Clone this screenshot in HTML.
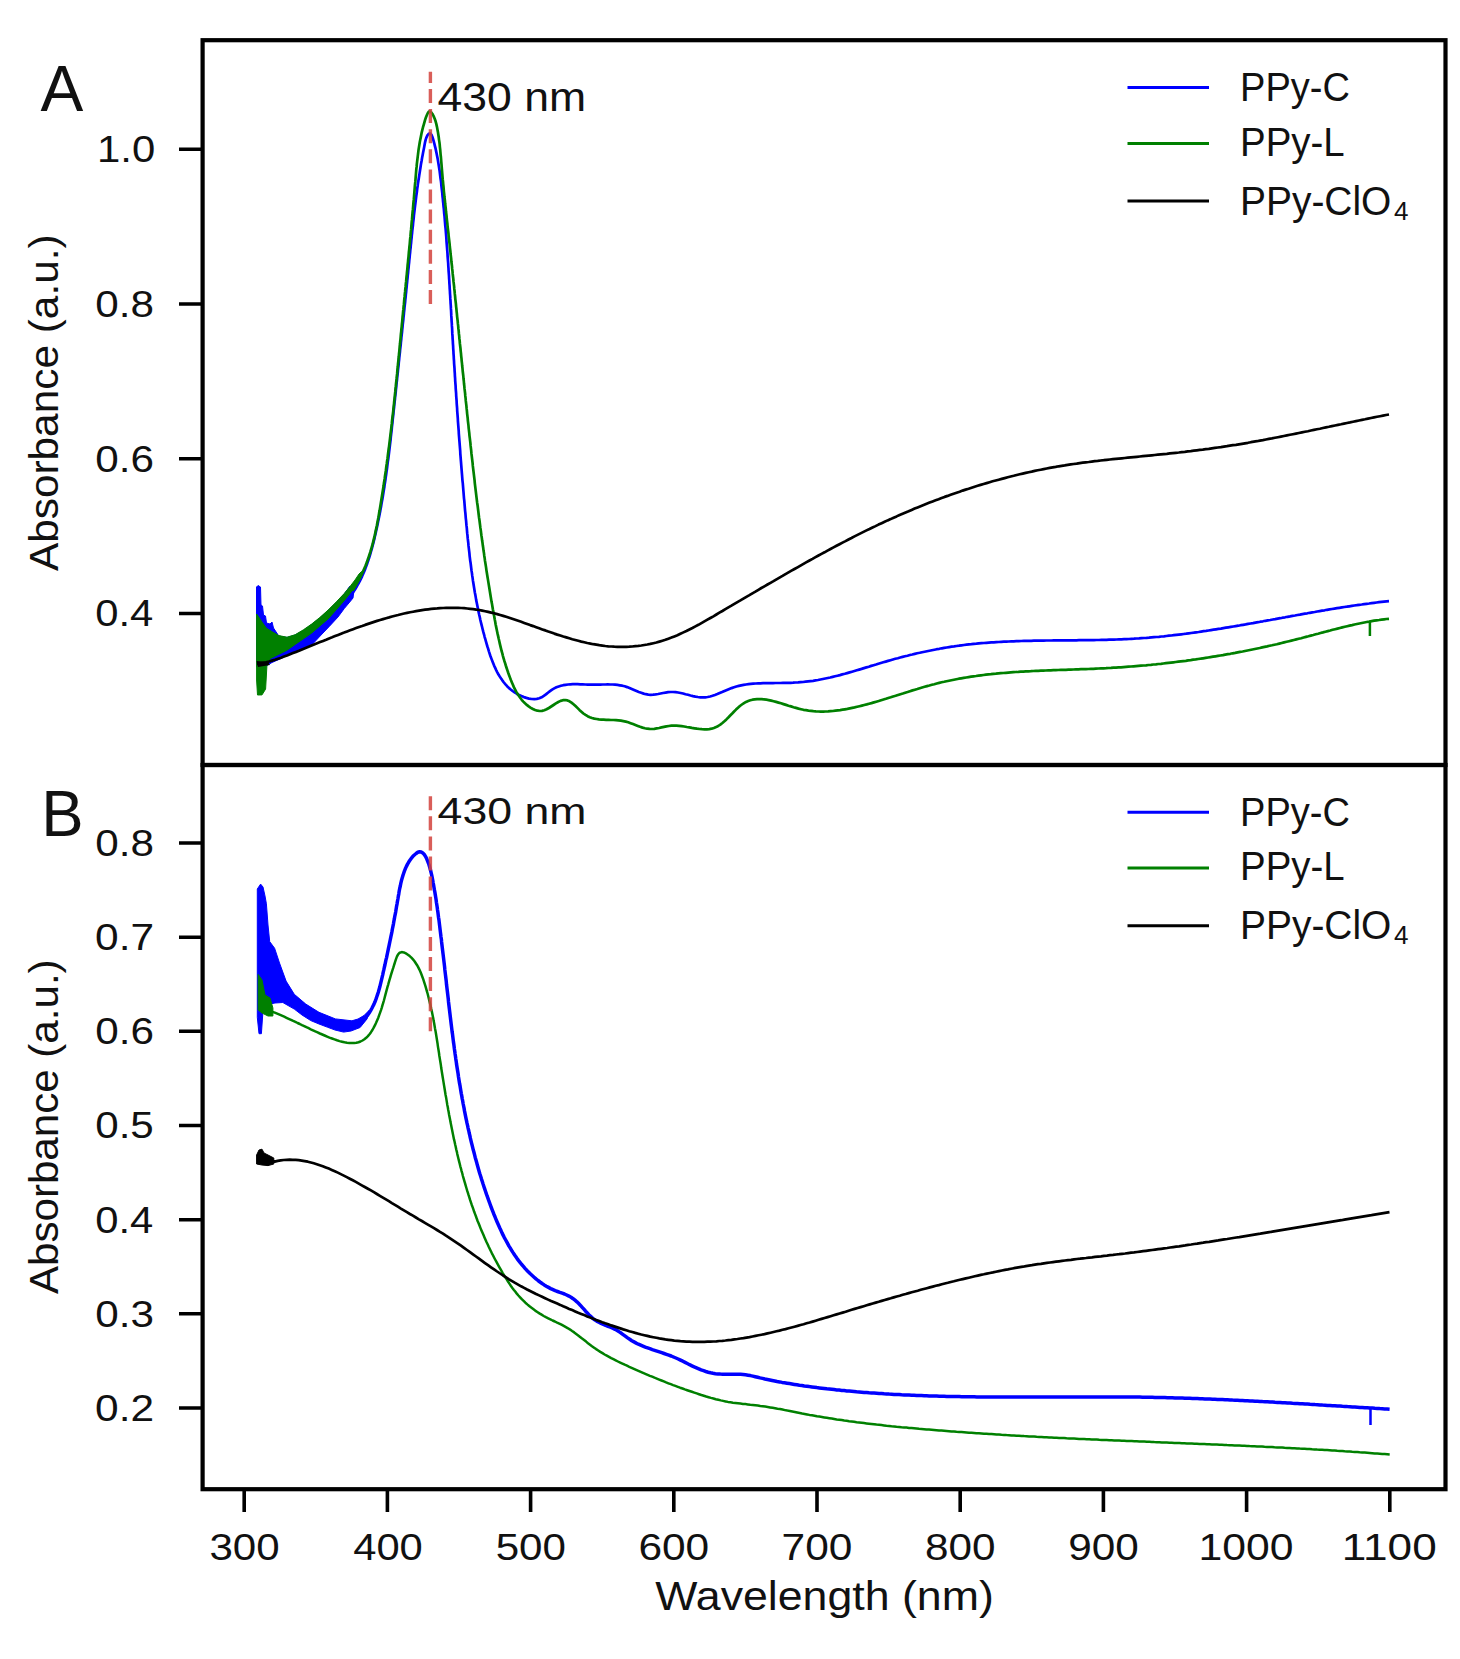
<!DOCTYPE html><html><head><meta charset="utf-8"><title>Absorbance spectra</title><style>html,body{margin:0;padding:0;background:#fff;}svg{display:block;}text{font-family:"Liberation Sans",sans-serif;fill:#111;}</style></head><body>
<svg xmlns="http://www.w3.org/2000/svg" width="1460" height="1659" viewBox="0 0 1460 1659">
<rect x="0" y="0" width="1460" height="1659" fill="#fff"/>
<defs><clipPath id="ca"><rect x="202.6" y="40.2" width="1242.9" height="724.8"/></clipPath><clipPath id="cb"><rect x="202.6" y="765" width="1242.9" height="724.2"/></clipPath></defs>
<g clip-path="url(#ca)" fill="none" stroke-linejoin="round" stroke-linecap="butt">
<path d="M256.5,587 L258,585.5 L260.5,587 L261,605 L262.5,606 L263.5,615 L265.5,616 L266.5,623 L270,624 L272,622 L273.5,628 L278.8,636 L287,637.5 L295.2,635 L303.4,630.5 L311.6,624.5 L319.8,618 L328.1,610.5 L336.3,602.5 L344.5,593.5 L350,586 L354,590 L353,598 L350.6,601 L344.3,608.5 L338,617 L329.5,626.2 L321.1,635 L312.7,644 L303.4,648.2 L295.2,651.8 L287,655.5 L280,659 L272,662.5 L266,666 L260,668 L256.5,667Z" fill="#0000ff" stroke="#0000ff" stroke-width="1"/>
<path d="M347.6,599.8 349.2,597.8 350.7,595.8 352.2,593.7 353.6,591.6 355,589.5 356.3,587.4 357.5,585.2 358.7,583 359.9,580.8 361,578.6 362.1,576.3 363.1,574 364.1,571.7 365,569.4 365.9,567.1 366.8,564.8 367.6,562.4 368.4,560 369.2,557.6 369.9,555.3 370.6,552.8 371.3,550.4 372,548 372.6,545.6 373.3,543.2 373.9,540.7 374.5,538.3 375,535.8 375.6,533.4 376.1,530.9 376.7,528.5 377.2,526 377.7,523.6 378.2,521.1 378.7,518.7 379.2,516.2 379.7,513.8 380.2,511.3 380.6,508.8 381.1,506.4 381.5,503.9 381.9,501.5 382.4,499 382.8,496.5 383.2,494.1 383.6,491.6 384,489.1 384.4,486.7 384.7,484.2 385.1,481.7 385.5,479.2 385.8,476.8 386.2,474.3 386.5,471.8 386.9,469.4 387.2,466.9 387.5,464.4 387.8,461.9 388.2,459.4 388.5,457 388.8,454.5 389.1,452 389.4,449.5 389.7,447 390,444.6 390.3,442.1 390.6,439.6 390.8,437.1 391.1,434.6 391.4,432.1 391.7,429.6 391.9,427.2 392.2,424.7 392.5,422.2 392.7,419.7 393,417.2 393.3,414.7 393.5,412.2 393.8,409.7 394.1,407.2 394.3,404.7 394.6,402.2 394.9,399.7 395.1,397.2 395.4,394.8 395.7,392.3 395.9,389.8 396.2,387.3 396.4,384.8 396.7,382.3 397,379.8 397.2,377.3 397.5,374.8 397.8,372.3 398,369.8 398.3,367.3 398.6,364.8 398.8,362.3 399.1,359.8 399.3,357.3 399.6,354.8 399.9,352.3 400.1,349.8 400.4,347.3 400.7,344.8 400.9,342.3 401.2,339.8 401.4,337.3 401.7,334.8 402,332.3 402.2,329.8 402.5,327.3 402.7,324.8 403,322.3 403.3,319.8 403.5,317.3 403.8,314.8 404,312.3 404.3,309.8 404.5,307.3 404.8,304.8 405.1,302.3 405.3,299.9 405.6,297.4 405.8,294.9 406.1,292.4 406.3,289.9 406.6,287.4 406.8,284.9 407.1,282.4 407.3,280 407.6,277.5 407.8,275 408.1,272.5 408.3,270 408.6,267.6 408.8,265.1 409.1,262.6 409.3,260.1 409.6,257.7 409.8,255.2 410.1,252.7 410.3,250.2 410.6,247.8 410.8,245.3 411.1,242.8 411.3,240.4 411.6,237.9 411.8,235.4 412.1,233 412.3,230.5 412.6,228 412.9,225.6 413.1,223.1 413.4,220.6 413.7,218.1 413.9,215.7 414.2,213.2 414.5,210.7 414.8,208.2 415.1,205.7 415.4,203.3 415.7,200.8 416,198.3 416.3,195.8 416.7,193.3 417,190.8 417.3,188.2 417.7,185.7 418,183.2 418.4,180.7 418.8,178.2 419.2,175.6 419.6,173.1 420,170.5 420.4,168 420.8,165.4 421.2,162.9 421.7,160.3 422.1,157.7 422.6,155.2 423.1,152.6 423.6,150 424.1,147.4 424.6,144.7 425.1,142.1 425.7,139.6 426.5,137.3 427.4,135.4 428.5,134 429.7,133.3 430.7,133.7 431.6,135 432.4,136.9 433.1,139.2 433.8,141.6 434.4,143.9 435,146.3 435.6,148.7 436.1,151.1 436.6,153.5 437.1,156 437.6,158.4 438,160.9 438.4,163.4 438.8,165.8 439.2,168.3 439.6,170.8 439.9,173.3 440.2,175.8 440.5,178.3 440.9,180.9 441.2,183.4 441.4,185.9 441.7,188.4 442,190.9 442.3,193.4 442.5,196 442.8,198.5 443,201 443.3,203.5 443.5,206 443.8,208.5 444,211 444.2,213.5 444.5,216 444.7,218.5 444.9,221.1 445.1,223.6 445.3,226.1 445.6,228.6 445.8,231.1 446,233.6 446.2,236.1 446.4,238.6 446.5,241.1 446.7,243.6 446.9,246.1 447.1,248.6 447.3,251.1 447.5,253.6 447.6,256.1 447.8,258.6 448,261.1 448.2,263.5 448.3,266 448.5,268.5 448.6,271 448.8,273.5 449,276 449.1,278.5 449.3,281 449.4,283.5 449.6,286 449.7,288.5 449.9,291 450,293.5 450.2,296 450.3,298.4 450.5,300.9 450.6,303.4 450.8,305.9 450.9,308.4 451.1,310.9 451.2,313.4 451.3,315.9 451.5,318.4 451.6,320.9 451.8,323.4 451.9,325.9 452.1,328.4 452.2,330.9 452.3,333.4 452.5,335.8 452.6,338.3 452.8,340.8 452.9,343.3 453.1,345.8 453.2,348.3 453.4,350.8 453.5,353.3 453.7,355.8 453.8,358.3 454,360.8 454.1,363.3 454.3,365.8 454.5,368.3 454.6,370.8 454.8,373.3 454.9,375.8 455.1,378.3 455.2,380.8 455.4,383.3 455.6,385.8 455.7,388.3 455.9,390.8 456.1,393.3 456.2,395.8 456.4,398.3 456.6,400.8 456.7,403.3 456.9,405.8 457.1,408.3 457.2,410.8 457.4,413.3 457.6,415.8 457.8,418.3 457.9,420.8 458.1,423.3 458.3,425.8 458.5,428.3 458.7,430.8 458.8,433.3 459,435.8 459.2,438.3 459.4,440.8 459.6,443.3 459.8,445.8 460,448.3 460.2,450.8 460.3,453.3 460.5,455.8 460.7,458.3 460.9,460.8 461.1,463.3 461.3,465.8 461.5,468.3 461.7,470.8 461.9,473.3 462.1,475.8 462.3,478.3 462.5,480.8 462.8,483.3 463,485.8 463.2,488.3 463.4,490.8 463.6,493.3 463.8,495.8 464,498.3 464.3,500.8 464.5,503.3 464.7,505.8 464.9,508.3 465.1,510.8 465.4,513.3 465.6,515.8 465.8,518.3 466.1,520.8 466.3,523.3 466.5,525.7 466.8,528.2 467,530.7 467.2,533.2 467.5,535.7 467.7,538.2 468,540.7 468.3,543.2 468.5,545.7 468.8,548.1 469.1,550.6 469.4,553.1 469.6,555.6 469.9,558.1 470.2,560.6 470.6,563 470.9,565.5 471.2,568 471.5,570.5 471.9,572.9 472.2,575.4 472.6,577.9 472.9,580.4 473.3,582.8 473.7,585.3 474.1,587.8 474.5,590.2 474.9,592.7 475.4,595.2 475.8,597.6 476.2,600.1 476.7,602.5 477.2,605 477.7,607.5 478.2,609.9 478.7,612.4 479.2,614.8 479.8,617.3 480.3,619.7 480.9,622.2 481.5,624.6 482.1,627 482.7,629.5 483.3,631.9 484,634.3 484.6,636.8 485.3,639.2 486,641.6 486.7,644.1 487.4,646.5 488.2,648.9 488.9,651.3 489.7,653.8 490.5,656.2 491.4,658.6 492.3,660.9 493.2,663.3 494.1,665.6 495.2,667.9 496.2,670.1 497.3,672.3 498.5,674.5 499.8,676.6 501.1,678.6 502.5,680.6 503.9,682.5 505.5,684.4 507.1,686.2 508.8,687.9 510.7,689.5 512.6,691 514.6,692.4 516.7,693.7 519,695 521.4,696.1 523.9,697.1 526.4,697.9 529,698.6 531.7,699 534.3,699.1 536.8,698.9 539.3,698.3 541.6,697.3 543.8,695.9 545.9,694.4 547.9,692.7 550,691.1 552.1,689.6 554.2,688.4 556.4,687.3 558.7,686.5 560.9,685.8 563.3,685.2 565.6,684.8 568,684.5 570.4,684.3 572.8,684.2 575.3,684.2 577.7,684.2 580.2,684.3 582.7,684.4 585.2,684.5 587.8,684.6 590.3,684.7 592.8,684.7 595.3,684.7 597.8,684.7 600.3,684.6 602.8,684.5 605.3,684.5 607.7,684.4 610.2,684.5 612.6,684.5 615.1,684.7 617.5,684.9 619.9,685.3 622.3,685.7 624.7,686.3 627.1,687.1 629.5,688 631.8,689 634.1,690 636.5,691 638.8,692 641.2,692.8 643.6,693.6 645.9,694.2 648.3,694.6 650.7,694.8 653.2,694.7 655.6,694.4 658.1,694 660.6,693.5 663.1,693 665.6,692.6 668.1,692.2 670.6,692 673.1,692 675.6,692.2 678.1,692.5 680.6,693 683.1,693.5 685.5,694.2 688,694.8 690.5,695.5 693,696.1 695.4,696.6 697.9,697 700.3,697.3 702.8,697.4 705.2,697.3 707.6,697 710.1,696.5 712.5,695.8 714.9,695 717.3,694.1 719.7,693.1 722.1,692.1 724.5,691 726.9,690 729.3,689 731.6,688.1 734,687.3 736.4,686.5 738.8,685.9 741.2,685.4 743.6,684.9 746,684.5 748.4,684.2 750.8,683.9 753.2,683.7 755.7,683.5 758.1,683.4 760.5,683.3 763,683.2 765.5,683.2 768,683.1 770.5,683.1 773,683.1 775.5,683 778,683 780.5,683 783,682.9 785.5,682.9 788.1,682.8 790.6,682.8 793.1,682.7 795.6,682.5 798.1,682.4 800.6,682.2 803.1,682 805.6,681.7 808.1,681.4 810.6,681.1 813.1,680.8 815.5,680.4 818,680 820.4,679.5 822.9,679 825.3,678.5 827.8,678 830.2,677.5 832.7,676.9 835.1,676.3 837.5,675.7 839.9,675.1 842.3,674.4 844.8,673.8 847.2,673.1 849.6,672.4 852,671.7 854.4,671 856.8,670.3 859.2,669.6 861.6,668.9 864,668.1 866.4,667.4 868.8,666.7 871.2,665.9 873.6,665.2 876,664.5 878.4,663.7 880.8,663 883.3,662.3 885.7,661.6 888.1,660.9 890.5,660.2 892.9,659.5 895.3,658.8 897.8,658.2 900.2,657.5 902.6,656.9 905,656.3 907.5,655.7 909.9,655 912.3,654.5 914.8,653.9 917.2,653.3 919.7,652.8 922.1,652.2 924.6,651.7 927,651.2 929.5,650.7 931.9,650.2 934.4,649.7 936.8,649.2 939.3,648.8 941.8,648.3 944.2,647.9 946.7,647.5 949.2,647.1 951.6,646.7 954.1,646.4 956.6,646 959,645.7 961.5,645.3 964,645 966.5,644.7 969,644.4 971.4,644.2 973.9,643.9 976.4,643.7 978.9,643.4 981.4,643.2 983.9,643 986.3,642.8 988.8,642.6 991.3,642.4 993.8,642.3 996.3,642.1 998.8,642 1001.3,641.8 1003.8,641.7 1006.3,641.6 1008.8,641.5 1011.3,641.4 1013.8,641.3 1016.3,641.2 1018.8,641.1 1021.3,641 1023.8,640.9 1026.3,640.9 1028.8,640.8 1031.3,640.8 1033.8,640.7 1036.3,640.7 1038.8,640.6 1041.3,640.6 1043.8,640.6 1046.3,640.5 1048.8,640.5 1051.3,640.5 1053.9,640.4 1056.4,640.4 1058.9,640.4 1061.4,640.4 1063.9,640.4 1066.4,640.3 1068.9,640.3 1071.4,640.3 1073.9,640.3 1076.4,640.3 1078.9,640.2 1081.4,640.2 1083.9,640.2 1086.5,640.2 1089,640.1 1091.5,640.1 1094,640.1 1096.5,640 1099,640 1101.5,639.9 1104,639.9 1106.5,639.8 1109,639.7 1111.5,639.7 1114,639.6 1116.5,639.5 1119,639.4 1121.5,639.3 1124,639.2 1126.5,639.1 1129,639 1131.5,638.8 1134,638.7 1136.5,638.5 1139,638.4 1141.5,638.2 1144,638 1146.5,637.9 1149,637.7 1151.5,637.4 1154,637.2 1156.4,637 1158.9,636.8 1161.4,636.5 1163.9,636.3 1166.4,636 1168.9,635.7 1171.4,635.5 1173.8,635.2 1176.3,634.9 1178.8,634.6 1181.3,634.3 1183.8,634 1186.3,633.7 1188.7,633.3 1191.2,633 1193.7,632.7 1196.2,632.3 1198.6,632 1201.1,631.6 1203.6,631.2 1206.1,630.9 1208.6,630.5 1211,630.1 1213.5,629.7 1216,629.3 1218.4,628.9 1220.9,628.6 1223.4,628.1 1225.9,627.7 1228.3,627.3 1230.8,626.9 1233.3,626.5 1235.7,626.1 1238.2,625.7 1240.7,625.2 1243.2,624.8 1245.6,624.4 1248.1,623.9 1250.6,623.5 1253,623.1 1255.5,622.6 1258,622.2 1260.4,621.7 1262.9,621.3 1265.4,620.8 1267.8,620.4 1270.3,620 1272.8,619.5 1275.2,619.1 1277.7,618.6 1280.2,618.2 1282.6,617.7 1285.1,617.3 1287.6,616.8 1290,616.4 1292.5,615.9 1295,615.5 1297.5,615 1299.9,614.6 1302.4,614.1 1304.9,613.7 1307.3,613.3 1309.8,612.8 1312.3,612.4 1314.7,612 1317.2,611.5 1319.7,611.1 1322.1,610.7 1324.6,610.3 1327.1,609.8 1329.5,609.4 1332,609 1334.5,608.6 1337,608.2 1339.4,607.8 1341.9,607.4 1344.4,607 1346.8,606.7 1349.3,606.3 1351.8,605.9 1354.3,605.5 1356.7,605.2 1359.2,604.8 1361.7,604.5 1364.2,604.1 1366.6,603.8 1369.1,603.5 1371.6,603.1 1374.1,602.8 1376.6,602.5 1379,602.2 1381.5,601.9 1384,601.6 1386.5,601.3 1389,601.1" stroke="#0000ff" stroke-width="2.7"/>
<path d="M256.6,614 L262.3,622.4 L266.4,628.2 L273,632.3 L278.8,635.6 L287,637.2 L295.2,634.7 L303.4,629.8 L311.6,624.1 L319.8,617.5 L328.1,610.1 L336.3,601.9 L344.5,593.2 L350,586.5 L355,580 L359,574 L361.5,571.5 L358,580.5 L352.7,590 L346,598.5 L336.3,609.7 L328.1,618.9 L319.8,626 L311.6,633.1 L303.4,638.8 L295.2,644.4 L287,650.2 L278.8,654.3 L270.5,658.4 L267,664 L266.4,675 L265.6,689.1 L262,694.9 L257.5,695 L256.6,680Z" fill="#008000" stroke="#008000" stroke-width="1"/>
<path d="M352.3,590.6 353.8,588.4 355.1,586.3 356.4,584.1 357.7,581.9 358.9,579.7 360.1,577.5 361.2,575.3 362.3,573 363.3,570.8 364.3,568.5 365.3,566.2 366.2,563.9 367.1,561.6 367.9,559.2 368.7,556.9 369.5,554.5 370.3,552.1 371,549.7 371.7,547.4 372.4,544.9 373,542.5 373.6,540.1 374.2,537.7 374.8,535.2 375.3,532.8 375.8,530.4 376.4,527.9 376.9,525.4 377.3,523 377.8,520.5 378.3,518 378.7,515.6 379.1,513.1 379.6,510.6 380,508.1 380.4,505.7 380.8,503.2 381.2,500.7 381.6,498.2 382,495.7 382.4,493.3 382.8,490.8 383.2,488.3 383.6,485.8 383.9,483.3 384.3,480.9 384.7,478.4 385,475.9 385.4,473.4 385.8,470.9 386.1,468.4 386.4,466 386.8,463.5 387.1,461 387.5,458.5 387.8,456 388.1,453.5 388.4,451.1 388.7,448.6 389.1,446.1 389.4,443.6 389.7,441.1 390,438.6 390.3,436.1 390.6,433.7 390.9,431.2 391.2,428.7 391.5,426.2 391.8,423.7 392,421.2 392.3,418.7 392.6,416.2 392.9,413.8 393.2,411.3 393.4,408.8 393.7,406.3 394,403.8 394.2,401.3 394.5,398.8 394.8,396.3 395,393.8 395.3,391.4 395.5,388.9 395.8,386.4 396,383.9 396.3,381.4 396.6,378.9 396.8,376.4 397.1,373.9 397.3,371.4 397.5,368.9 397.8,366.5 398,364 398.3,361.5 398.5,359 398.8,356.5 399,354 399.3,351.5 399.5,349 399.7,346.5 400,344 400.2,341.5 400.5,339.1 400.7,336.6 400.9,334.1 401.2,331.6 401.4,329.1 401.7,326.6 401.9,324.1 402.2,321.6 402.4,319.1 402.6,316.6 402.9,314.1 403.1,311.7 403.4,309.2 403.6,306.7 403.9,304.2 404.1,301.7 404.3,299.2 404.6,296.7 404.8,294.2 405.1,291.7 405.3,289.2 405.6,286.7 405.8,284.2 406.1,281.7 406.3,279.3 406.5,276.8 406.8,274.3 407,271.8 407.3,269.3 407.5,266.8 407.7,264.3 408,261.8 408.2,259.3 408.5,256.8 408.7,254.3 408.9,251.8 409.2,249.3 409.4,246.8 409.7,244.3 409.9,241.9 410.1,239.4 410.4,236.9 410.6,234.4 410.8,231.9 411.1,229.4 411.3,226.9 411.5,224.4 411.7,221.9 412,219.4 412.2,216.9 412.4,214.4 412.6,211.9 412.9,209.4 413.1,206.9 413.3,204.4 413.5,201.9 413.8,199.4 414,196.9 414.2,194.4 414.4,191.9 414.6,189.4 414.8,186.9 415,184.4 415.3,181.9 415.5,179.4 415.7,176.9 415.9,174.4 416.1,171.9 416.3,169.4 416.6,166.9 416.8,164.4 417.1,161.9 417.4,159.4 417.7,156.9 418,154.4 418.3,151.9 418.6,149.4 419,147 419.4,144.5 419.8,142 420.3,139.5 420.8,137.1 421.3,134.6 421.8,132.1 422.4,129.7 423,127.2 423.7,124.8 424.4,122.4 425.1,119.9 425.9,117.5 426.8,115.2 427.7,113.2 428.7,111.8 429.8,111.3 431,112 432.3,113.7 433.6,116.1 434.7,118.7 435.6,121.3 436.3,123.9 436.9,126.6 437.4,129.2 437.9,131.9 438.3,134.5 438.7,137 439,139.6 439.4,142.1 439.7,144.6 439.9,147.1 440.2,149.6 440.4,152.1 440.6,154.6 440.9,157 441.1,159.5 441.3,162 441.5,164.4 441.7,166.9 441.9,169.3 442.1,171.8 442.3,174.2 442.5,176.7 442.7,179.2 443,181.7 443.2,184.1 443.5,186.6 443.7,189.1 443.9,191.6 444.2,194.1 444.4,196.5 444.7,199 445,201.5 445.2,204 445.5,206.5 445.8,209 446,211.5 446.3,214 446.6,216.5 446.8,219 447.1,221.5 447.4,224 447.6,226.5 447.9,229 448.2,231.5 448.5,234 448.7,236.5 449,239 449.3,241.5 449.6,244 449.8,246.5 450.1,249 450.4,251.5 450.6,254 450.9,256.5 451.2,259 451.4,261.5 451.7,264 452,266.4 452.2,268.9 452.5,271.4 452.7,273.9 453,276.4 453.3,278.9 453.5,281.4 453.8,283.9 454.1,286.4 454.3,288.9 454.6,291.4 454.8,293.9 455.1,296.4 455.3,298.8 455.6,301.3 455.9,303.8 456.1,306.3 456.4,308.8 456.6,311.3 456.9,313.8 457.1,316.3 457.4,318.8 457.7,321.3 457.9,323.7 458.2,326.2 458.4,328.7 458.7,331.2 458.9,333.7 459.2,336.2 459.4,338.7 459.7,341.2 459.9,343.7 460.2,346.1 460.5,348.6 460.7,351.1 461,353.6 461.2,356.1 461.5,358.6 461.7,361.1 462,363.6 462.2,366 462.5,368.5 462.7,371 463,373.5 463.3,376 463.5,378.5 463.8,381 464,383.5 464.3,386 464.5,388.4 464.8,390.9 465.1,393.4 465.3,395.9 465.6,398.4 465.8,400.9 466.1,403.4 466.4,405.9 466.6,408.4 466.9,410.8 467.1,413.3 467.4,415.8 467.7,418.3 467.9,420.8 468.2,423.3 468.5,425.8 468.7,428.3 469,430.8 469.3,433.3 469.5,435.8 469.8,438.2 470.1,440.7 470.4,443.2 470.6,445.7 470.9,448.2 471.2,450.7 471.4,453.2 471.7,455.7 472,458.2 472.3,460.7 472.6,463.2 472.8,465.7 473.1,468.2 473.4,470.7 473.7,473.1 474,475.6 474.3,478.1 474.6,480.6 474.8,483.1 475.1,485.6 475.4,488.1 475.7,490.6 476,493.1 476.3,495.6 476.6,498.1 476.9,500.6 477.2,503 477.6,505.5 477.9,508 478.2,510.5 478.5,513 478.8,515.5 479.1,518 479.5,520.5 479.8,523 480.1,525.4 480.4,527.9 480.8,530.4 481.1,532.9 481.4,535.4 481.8,537.9 482.1,540.3 482.5,542.8 482.8,545.3 483.2,547.8 483.5,550.3 483.9,552.7 484.2,555.2 484.6,557.7 484.9,560.2 485.3,562.6 485.7,565.1 486.1,567.6 486.4,570.1 486.8,572.5 487.2,575 487.6,577.5 488,579.9 488.4,582.4 488.8,584.9 489.2,587.3 489.6,589.8 490,592.3 490.4,594.7 490.8,597.2 491.2,599.7 491.6,602.1 492.1,604.6 492.5,607 492.9,609.5 493.4,611.9 493.8,614.4 494.3,616.8 494.7,619.3 495.2,621.7 495.6,624.2 496.1,626.6 496.6,629.1 497.1,631.5 497.6,633.9 498.2,636.4 498.7,638.8 499.3,641.3 499.8,643.7 500.4,646.1 501,648.6 501.6,651 502.3,653.4 502.9,655.8 503.6,658.3 504.3,660.7 505.1,663.1 505.8,665.5 506.6,668 507.4,670.4 508.2,672.8 509.1,675.2 510,677.6 510.9,680 511.9,682.4 512.9,684.8 513.9,687.1 515,689.3 516.2,691.6 517.5,693.7 518.8,695.8 520.2,697.8 521.7,699.8 523.3,701.6 525,703.3 526.8,704.9 528.7,706.4 530.8,707.8 532.9,709 535.1,710 537.4,710.7 539.7,711 542,710.9 544.3,710.3 546.6,709.3 548.9,708 551.2,706.5 553.5,705 555.9,703.4 558.3,702 560.6,700.9 563,700.2 565.2,700 567.4,700.4 569.5,701.3 571.5,702.6 573.5,704.2 575.5,706 577.4,707.9 579.4,709.9 581.4,711.7 583.4,713.5 585.5,714.9 587.6,716.2 589.8,717.2 592,718 594.3,718.6 596.6,719 598.9,719.4 601.3,719.6 603.7,719.7 606.1,719.8 608.6,719.9 611,720 613.5,720 616,720.2 618.4,720.4 620.9,720.7 623.3,721.1 625.8,721.6 628.2,722.3 630.6,723.2 633,724.1 635.4,725 637.8,725.9 640.1,726.8 642.5,727.6 644.9,728.2 647.2,728.7 649.6,728.9 652,729 654.3,728.8 656.7,728.4 659.1,728 661.5,727.4 664,726.9 666.4,726.4 668.9,726 671.4,725.7 673.9,725.6 676.4,725.7 679,725.9 681.6,726.2 684.2,726.5 686.8,727 689.3,727.4 691.9,727.9 694.5,728.3 697,728.7 699.5,729 702,729.2 704.5,729.3 706.9,729.3 709.3,729.1 711.6,728.7 713.9,728 716.1,727.1 718.2,726 720.3,724.6 722.4,723 724.4,721.3 726.4,719.4 728.3,717.5 730.2,715.5 732.2,713.5 734.1,711.5 736,709.6 738,707.7 739.9,706 741.9,704.5 744,703.1 746,701.9 748.2,701 750.3,700.3 752.5,699.7 754.7,699.4 757,699.2 759.3,699.1 761.6,699.2 764,699.4 766.4,699.7 768.7,700.1 771.2,700.6 773.6,701.2 776.1,701.9 778.5,702.6 781,703.3 783.5,704.1 786,704.9 788.5,705.7 791,706.4 793.5,707.2 796,707.9 798.5,708.6 801,709.2 803.5,709.8 806,710.2 808.5,710.6 810.9,710.9 813.4,711.2 815.9,711.4 818.3,711.5 820.8,711.6 823.2,711.6 825.6,711.5 828.1,711.4 830.5,711.2 832.9,711 835.4,710.7 837.8,710.4 840.2,710.1 842.6,709.7 845,709.3 847.4,708.9 849.8,708.4 852.2,707.9 854.6,707.4 857.1,706.8 859.5,706.2 861.9,705.6 864.3,705 866.7,704.4 869.1,703.7 871.5,703.1 873.9,702.4 876.3,701.7 878.7,701 881.1,700.2 883.5,699.5 885.9,698.8 888.3,698 890.7,697.3 893.1,696.5 895.6,695.8 898,695 900.4,694.2 902.8,693.5 905.2,692.7 907.6,692 910,691.2 912.5,690.4 914.9,689.7 917.3,689 919.7,688.2 922.1,687.5 924.6,686.8 927,686.1 929.4,685.5 931.9,684.8 934.3,684.2 936.7,683.5 939.2,682.9 941.6,682.3 944.1,681.8 946.5,681.2 949,680.7 951.4,680.2 953.9,679.7 956.3,679.2 958.8,678.7 961.2,678.3 963.7,677.9 966.2,677.5 968.6,677.1 971.1,676.7 973.6,676.3 976,676 978.5,675.6 981,675.3 983.5,675 985.9,674.7 988.4,674.4 990.9,674.2 993.4,673.9 995.9,673.7 998.4,673.4 1000.8,673.2 1003.3,673 1005.8,672.8 1008.3,672.6 1010.8,672.4 1013.3,672.2 1015.8,672 1018.3,671.9 1020.8,671.7 1023.3,671.6 1025.8,671.4 1028.3,671.3 1030.8,671.2 1033.3,671 1035.8,670.9 1038.3,670.8 1040.8,670.7 1043.3,670.6 1045.8,670.5 1048.3,670.4 1050.8,670.3 1053.3,670.2 1055.8,670.1 1058.3,670 1060.8,669.9 1063.3,669.9 1065.9,669.8 1068.4,669.7 1070.9,669.6 1073.4,669.5 1075.9,669.4 1078.4,669.3 1080.9,669.2 1083.4,669.2 1085.9,669.1 1088.4,669 1090.9,668.9 1093.4,668.8 1095.9,668.6 1098.4,668.5 1101,668.4 1103.5,668.3 1106,668.2 1108.5,668 1111,667.9 1113.5,667.7 1116,667.6 1118.5,667.4 1121,667.3 1123.5,667.1 1126,666.9 1128.5,666.7 1131,666.5 1133.5,666.3 1136,666.1 1138.5,665.9 1141,665.7 1143.5,665.5 1146,665.3 1148.5,665 1150.9,664.8 1153.4,664.5 1155.9,664.3 1158.4,664 1160.9,663.8 1163.4,663.5 1165.9,663.2 1168.4,662.9 1170.9,662.6 1173.4,662.3 1175.8,662 1178.3,661.7 1180.8,661.4 1183.3,661.1 1185.8,660.8 1188.2,660.4 1190.7,660.1 1193.2,659.7 1195.7,659.4 1198.2,659 1200.6,658.7 1203.1,658.3 1205.6,657.9 1208.1,657.5 1210.5,657.1 1213,656.7 1215.5,656.3 1217.9,655.9 1220.4,655.5 1222.9,655.1 1225.3,654.6 1227.8,654.2 1230.3,653.8 1232.7,653.3 1235.2,652.9 1237.6,652.4 1240.1,651.9 1242.6,651.5 1245,651 1247.5,650.5 1249.9,650 1252.4,649.5 1254.8,649 1257.3,648.5 1259.7,648 1262.2,647.4 1264.6,646.9 1267.1,646.4 1269.5,645.8 1272,645.3 1274.4,644.7 1276.8,644.2 1279.3,643.6 1281.7,643 1284.1,642.4 1286.6,641.8 1289,641.2 1291.4,640.6 1293.9,640 1296.3,639.4 1298.7,638.8 1301.2,638.2 1303.6,637.5 1306,636.9 1308.4,636.3 1310.8,635.6 1313.3,635 1315.7,634.3 1318.1,633.7 1320.5,633 1322.9,632.4 1325.4,631.7 1327.8,631.1 1330.2,630.5 1332.6,629.8 1335.1,629.2 1337.5,628.6 1339.9,628 1342.3,627.4 1344.8,626.8 1347.2,626.2 1349.6,625.6 1352.1,625.1 1354.5,624.5 1356.9,624 1359.4,623.5 1361.8,623 1364.3,622.5 1366.7,622 1369.2,621.6 1371.7,621.1 1374.1,620.7 1376.6,620.3 1379.1,620 1381.6,619.6 1384.1,619.3 1386.5,619 1389,618.8" stroke="#008000" stroke-width="2.7"/>
<path d="M257,663.8 260,663.4 263,662.8 266,662.2 269,661.5 272,660.6 275,659.7 278,658.7 281,657.7 284,656.6 287,655.5 290,654.3 293,653.1 296,651.9 299,650.7 302,649.4 305,648.2 308,647 311,645.8 314.1,644.5 317.1,643.3 320.1,642.1 323.1,640.9 326.1,639.7 329.1,638.4 332.1,637.3 335.1,636.1 338.1,634.9 341.1,633.7 344.1,632.6 347.1,631.4 350.1,630.3 353.1,629.2 356.1,628.1 359.1,627 362.1,626 365.1,624.9 368.1,623.9 371.1,622.9 374.1,621.9 377.1,620.9 380.1,620 383.1,619.1 386.1,618.2 389.1,617.4 392.1,616.5 395.1,615.7 398.1,615 401.1,614.2 404.1,613.5 407.1,612.9 410.1,612.3 413.1,611.7 416.1,611.1 419.1,610.6 422.1,610.1 425.1,609.7 428.2,609.3 431.2,608.9 434.2,608.6 437.2,608.4 440.2,608.1 443.2,608 446.2,607.8 449.2,607.8 452.2,607.8 455.2,607.8 458.2,607.9 461.2,608 464.2,608.2 467.2,608.5 470.2,608.8 473.2,609.1 476.2,609.6 479.2,610 482.2,610.6 485.2,611.2 488.2,611.9 491.2,612.6 494.2,613.3 497.2,614.1 500.2,615 503.2,615.9 506.2,616.8 509.2,617.8 512.2,618.8 515.2,619.8 518.2,620.8 521.2,621.8 524.2,622.9 527.2,624 530.2,625.1 533.2,626.1 536.2,627.2 539.2,628.3 542.3,629.4 545.3,630.4 548.3,631.5 551.3,632.5 554.3,633.6 557.3,634.6 560.3,635.5 563.3,636.5 566.3,637.4 569.3,638.3 572.3,639.2 575.3,640 578.3,640.8 581.3,641.6 584.3,642.3 587.3,643 590.3,643.6 593.3,644.2 596.3,644.7 599.3,645.2 602.3,645.6 605.3,646 608.3,646.3 611.3,646.5 614.3,646.7 617.3,646.8 620.3,646.9 623.3,646.9 626.3,646.8 629.3,646.7 632.3,646.5 635.3,646.2 638.3,645.9 641.3,645.5 644.3,645 647.3,644.5 650.3,643.9 653.4,643.2 656.4,642.5 659.4,641.6 662.4,640.7 665.4,639.8 668.4,638.7 671.4,637.6 674.4,636.4 677.4,635.2 680.4,633.8 683.4,632.4 686.4,631 689.4,629.5 692.4,628 695.4,626.4 698.4,624.8 701.4,623.1 704.4,621.4 707.4,619.7 710.4,618 713.4,616.3 716.4,614.5 719.4,612.7 722.4,611 725.4,609.2 728.4,607.4 731.4,605.7 734.4,603.9 737.4,602.1 740.4,600.4 743.4,598.6 746.4,596.8 749.4,595.1 752.4,593.3 755.4,591.6 758.4,589.8 761.4,588 764.4,586.3 767.5,584.5 770.5,582.8 773.5,581.1 776.5,579.3 779.5,577.6 782.5,575.9 785.5,574.1 788.5,572.4 791.5,570.7 794.5,569 797.5,567.3 800.5,565.6 803.5,563.9 806.5,562.2 809.5,560.5 812.5,558.9 815.5,557.2 818.5,555.5 821.5,553.9 824.5,552.3 827.5,550.6 830.5,549 833.5,547.4 836.5,545.8 839.5,544.2 842.5,542.6 845.5,541.1 848.5,539.5 851.5,538 854.5,536.4 857.5,534.9 860.5,533.4 863.5,531.9 866.5,530.4 869.5,529 872.5,527.5 875.5,526.1 878.5,524.6 881.6,523.2 884.6,521.8 887.6,520.4 890.6,519.1 893.6,517.7 896.6,516.4 899.6,515 902.6,513.7 905.6,512.4 908.6,511.2 911.6,509.9 914.6,508.6 917.6,507.4 920.6,506.2 923.6,505 926.6,503.8 929.6,502.6 932.6,501.4 935.6,500.3 938.6,499.2 941.6,498 944.6,496.9 947.6,495.9 950.6,494.8 953.6,493.7 956.6,492.7 959.6,491.7 962.6,490.6 965.6,489.6 968.6,488.7 971.6,487.7 974.6,486.7 977.6,485.8 980.6,484.9 983.6,484 986.6,483.1 989.6,482.2 992.6,481.3 995.7,480.5 998.7,479.7 1001.7,478.9 1004.7,478.1 1007.7,477.3 1010.7,476.5 1013.7,475.8 1016.7,475 1019.7,474.3 1022.7,473.6 1025.7,472.9 1028.7,472.2 1031.7,471.6 1034.7,470.9 1037.7,470.3 1040.7,469.7 1043.7,469.1 1046.7,468.5 1049.7,467.9 1052.7,467.4 1055.7,466.9 1058.7,466.3 1061.7,465.8 1064.7,465.4 1067.7,464.9 1070.7,464.4 1073.7,464 1076.7,463.6 1079.7,463.1 1082.7,462.7 1085.7,462.3 1088.7,462 1091.7,461.6 1094.7,461.2 1097.7,460.9 1100.7,460.5 1103.7,460.2 1106.8,459.8 1109.8,459.5 1112.8,459.2 1115.8,458.9 1118.8,458.6 1121.8,458.3 1124.8,458 1127.8,457.7 1130.8,457.4 1133.8,457.1 1136.8,456.8 1139.8,456.5 1142.8,456.2 1145.8,455.9 1148.8,455.6 1151.8,455.3 1154.8,455 1157.8,454.7 1160.8,454.4 1163.8,454.1 1166.8,453.8 1169.8,453.4 1172.8,453.1 1175.8,452.8 1178.8,452.5 1181.8,452.1 1184.8,451.8 1187.8,451.4 1190.8,451.1 1193.8,450.7 1196.8,450.3 1199.8,449.9 1202.8,449.6 1205.8,449.2 1208.8,448.8 1211.8,448.3 1214.8,447.9 1217.8,447.5 1220.9,447.1 1223.9,446.6 1226.9,446.2 1229.9,445.7 1232.9,445.2 1235.9,444.8 1238.9,444.3 1241.9,443.8 1244.9,443.3 1247.9,442.8 1250.9,442.2 1253.9,441.7 1256.9,441.2 1259.9,440.6 1262.9,440.1 1265.9,439.5 1268.9,438.9 1271.9,438.4 1274.9,437.8 1277.9,437.2 1280.9,436.6 1283.9,436 1286.9,435.4 1289.9,434.8 1292.9,434.2 1295.9,433.6 1298.9,433 1301.9,432.4 1304.9,431.8 1307.9,431.2 1310.9,430.5 1313.9,429.9 1316.9,429.3 1319.9,428.7 1322.9,428 1325.9,427.4 1328.9,426.8 1331.9,426.1 1335,425.5 1338,424.9 1341,424.3 1344,423.6 1347,423 1350,422.4 1353,421.7 1356,421.1 1359,420.5 1362,419.9 1365,419.3 1368,418.6 1371,418 1374,417.4 1377,416.8 1380,416.2 1383,415.6 1386,415 1389,414.5" stroke="#000000" stroke-width="2.7"/>
<path d="M256.6,661 L268,662 L270,665 L258,667Z" fill="#000"/>
<path d="M1369.9,622 L1369.9,636" stroke="#008000" stroke-width="2.5"/>
<path d="M430.4,304 L430.4,71.8" stroke="#d2423c" stroke-width="3.4" stroke-dasharray="14 6.1" stroke-opacity="0.85"/>
</g>
<g clip-path="url(#cb)" fill="none" stroke-linejoin="round" stroke-linecap="butt">
<path d="M257.3,889 L260.6,884.1 L263,887 L265,896 L266.4,903.8 L268,925 L269.7,941.6 L274.6,948.2 L279.5,963 L286.1,981.1 L294.3,994.3 L305.8,1004.1 L319,1012.3 L335.4,1018.9 L351.9,1020.8 L358,1019 L364,1015.5 L369.5,1010 L367,1019 L360.1,1027.5 L351,1031 L343.6,1032.1 L335,1030 L327.2,1027.1 L319,1024 L310.8,1020.6 L302,1015 L294.3,1009.1 L282.8,1002.5 L275,1003 L269.7,1004.1 L263.1,1009.1 L261.4,1033.7 L259,1033.7 L257.3,1017.3Z" fill="#0000ff" stroke="#0000ff" stroke-width="1"/>
<path d="M354.9,1026.6 357.2,1025.2 359.2,1023.7 361.2,1022.1 363,1020.4 364.8,1018.6 366.4,1016.7 367.9,1014.8 369.3,1012.8 370.6,1010.7 371.8,1008.5 372.9,1006.3 374,1004.1 375,1001.8 375.9,999.4 376.7,997 377.5,994.6 378.3,992.2 379,989.7 379.7,987.3 380.3,984.8 380.9,982.3 381.5,979.8 382.1,977.3 382.7,974.8 383.2,972.4 383.8,969.9 384.3,967.5 384.9,965 385.4,962.6 385.9,960.2 386.5,957.8 387,955.4 387.5,953 388,950.6 388.5,948.2 389,945.8 389.5,943.4 390,941 390.5,938.6 391,936.2 391.5,933.8 392,931.4 392.4,929 392.9,926.6 393.4,924.1 393.8,921.7 394.3,919.2 394.7,916.7 395.2,914.3 395.7,911.8 396.1,909.2 396.5,906.7 397,904.1 397.4,901.6 397.9,899 398.3,896.4 398.8,893.8 399.2,891.1 399.7,888.5 400.3,886 400.8,883.4 401.4,880.8 402.1,878.3 402.8,875.9 403.6,873.5 404.4,871.1 405.3,868.8 406.3,866.6 407.4,864.4 408.6,862.3 409.9,860.3 411.2,858.4 412.7,856.6 414.3,855 416.1,853.5 417.8,852.3 419.6,851.8 421.2,852 422.8,853 424.3,854.5 425.6,856.6 426.8,859.1 427.9,861.8 428.9,864.5 429.7,867.3 430.5,870 431.1,872.6 431.7,875.1 432.2,877.6 432.7,880 433.1,882.5 433.6,885 434,887.5 434.4,889.9 434.9,892.4 435.3,894.9 435.7,897.3 436.1,899.8 436.4,902.3 436.8,904.8 437.2,907.3 437.5,909.7 437.9,912.2 438.2,914.7 438.5,917.2 438.9,919.6 439.2,922.1 439.5,924.6 439.8,927.1 440.1,929.6 440.4,932.1 440.7,934.5 441,937 441.4,939.5 441.6,942 441.9,944.5 442.2,947 442.5,949.5 442.8,952 443.1,954.4 443.4,956.9 443.7,959.4 444,961.9 444.3,964.4 444.6,966.9 444.8,969.4 445.1,971.9 445.4,974.4 445.7,976.8 446,979.3 446.3,981.8 446.5,984.3 446.8,986.8 447.1,989.3 447.4,991.8 447.7,994.3 448,996.8 448.3,999.3 448.5,1001.7 448.8,1004.2 449.1,1006.7 449.4,1009.2 449.7,1011.7 450,1014.2 450.3,1016.7 450.6,1019.2 450.9,1021.7 451.2,1024.2 451.5,1026.6 451.8,1029.1 452.1,1031.6 452.5,1034.1 452.8,1036.6 453.1,1039.1 453.4,1041.6 453.8,1044.1 454.1,1046.5 454.4,1049 454.8,1051.5 455.1,1054 455.5,1056.5 455.8,1059 456.2,1061.4 456.5,1063.9 456.9,1066.4 457.3,1068.9 457.7,1071.4 458.1,1073.8 458.4,1076.3 458.8,1078.8 459.2,1081.3 459.6,1083.7 460.1,1086.2 460.5,1088.7 460.9,1091.2 461.3,1093.6 461.8,1096.1 462.2,1098.6 462.7,1101 463.1,1103.5 463.6,1106 464.1,1108.4 464.5,1110.9 465,1113.3 465.5,1115.8 466,1118.3 466.5,1120.7 467,1123.2 467.6,1125.6 468.1,1128.1 468.7,1130.5 469.2,1133 469.8,1135.4 470.3,1137.9 470.9,1140.3 471.5,1142.8 472.1,1145.2 472.7,1147.6 473.3,1150.1 474,1152.5 474.6,1154.9 475.2,1157.4 475.9,1159.8 476.6,1162.2 477.2,1164.6 477.9,1167 478.6,1169.5 479.3,1171.9 480,1174.3 480.8,1176.7 481.5,1179.1 482.3,1181.5 483,1183.8 483.8,1186.2 484.6,1188.6 485.4,1191 486.2,1193.4 487,1195.7 487.9,1198.1 488.7,1200.4 489.6,1202.8 490.4,1205.2 491.3,1207.5 492.2,1209.8 493.1,1212.2 494,1214.5 495,1216.8 495.9,1219.1 496.9,1221.5 497.9,1223.8 498.9,1226 499.9,1228.3 501,1230.6 502,1232.9 503.1,1235.1 504.2,1237.3 505.4,1239.5 506.6,1241.7 507.8,1243.9 509,1246.1 510.3,1248.2 511.6,1250.3 512.9,1252.4 514.3,1254.5 515.7,1256.6 517.1,1258.6 518.6,1260.6 520.2,1262.6 521.7,1264.5 523.4,1266.4 525,1268.3 526.7,1270.2 528.5,1272 530.3,1273.8 532.2,1275.5 534.1,1277.2 536,1278.9 538,1280.5 540,1282 542.1,1283.5 544.2,1284.9 546.3,1286.2 548.5,1287.4 550.7,1288.6 553,1289.7 555.2,1290.7 557.5,1291.5 559.9,1292.4 562.2,1293.2 564.5,1294 566.7,1295 568.9,1296.1 571,1297.3 573.1,1298.7 575,1300.2 576.9,1301.8 578.7,1303.6 580.5,1305.4 582.2,1307.3 583.9,1309.2 585.6,1311.2 587.3,1313 589.1,1314.9 590.9,1316.6 592.7,1318.3 594.7,1319.8 596.7,1321.1 598.9,1322.3 601.1,1323.4 603.4,1324.4 605.7,1325.4 608,1326.3 610.4,1327.2 612.7,1328.2 615,1329.3 617.2,1330.5 619.3,1331.9 621.4,1333.3 623.5,1334.9 625.6,1336.4 627.6,1337.9 629.7,1339.3 631.8,1340.7 634,1341.9 636.2,1343.1 638.4,1344.2 640.7,1345.2 642.9,1346.1 645.3,1347.1 647.6,1347.9 649.9,1348.7 652.3,1349.6 654.6,1350.3 657,1351.1 659.4,1351.9 661.7,1352.7 664.1,1353.5 666.5,1354.3 668.8,1355.1 671.2,1356 673.5,1357 675.9,1358 678.2,1359 680.5,1360.1 682.8,1361.2 685.1,1362.4 687.3,1363.5 689.6,1364.7 691.9,1365.8 694.2,1366.9 696.5,1367.9 698.8,1368.9 701.1,1369.9 703.5,1370.7 705.8,1371.5 708.2,1372.2 710.6,1372.8 713,1373.3 715.4,1373.7 717.9,1373.9 720.4,1374.1 722.9,1374.2 725.4,1374.2 728,1374.2 730.5,1374.2 733,1374.2 735.6,1374.2 738.1,1374.2 740.6,1374.3 743.1,1374.5 745.5,1374.8 748,1375.2 750.4,1375.6 752.8,1376.1 755.3,1376.7 757.7,1377.3 760.1,1377.9 762.5,1378.4 764.9,1379 767.4,1379.5 769.8,1380 772.2,1380.5 774.7,1381 777.1,1381.5 779.6,1381.9 782.1,1382.4 784.5,1382.8 787,1383.2 789.5,1383.6 791.9,1384 794.4,1384.4 796.9,1384.8 799.4,1385.2 801.9,1385.5 804.3,1385.9 806.8,1386.2 809.3,1386.6 811.8,1386.9 814.3,1387.2 816.8,1387.6 819.3,1387.9 821.8,1388.2 824.2,1388.5 826.7,1388.8 829.2,1389 831.7,1389.3 834.2,1389.6 836.7,1389.9 839.2,1390.1 841.7,1390.4 844.2,1390.6 846.7,1390.9 849.2,1391.1 851.6,1391.3 854.1,1391.5 856.6,1391.8 859.1,1392 861.6,1392.2 864.1,1392.4 866.6,1392.6 869.1,1392.8 871.6,1392.9 874.1,1393.1 876.6,1393.3 879.1,1393.5 881.6,1393.6 884.1,1393.8 886.6,1393.9 889.1,1394.1 891.6,1394.2 894.1,1394.4 896.6,1394.5 899.1,1394.6 901.6,1394.8 904.1,1394.9 906.6,1395 909.1,1395.1 911.6,1395.2 914.1,1395.3 916.6,1395.4 919.1,1395.5 921.6,1395.6 924.1,1395.7 926.6,1395.8 929.1,1395.9 931.6,1396 934.1,1396 936.7,1396.1 939.2,1396.2 941.7,1396.3 944.2,1396.3 946.7,1396.4 949.2,1396.4 951.7,1396.5 954.2,1396.5 956.7,1396.6 959.2,1396.6 961.7,1396.7 964.2,1396.7 966.7,1396.7 969.2,1396.8 971.7,1396.8 974.3,1396.8 976.8,1396.9 979.3,1396.9 981.8,1396.9 984.3,1396.9 986.8,1396.9 989.3,1397 991.8,1397 994.3,1397 996.8,1397 999.3,1397 1001.9,1397 1004.4,1397 1006.9,1397 1009.4,1397 1011.9,1397 1014.4,1397 1016.9,1397 1019.4,1397 1021.9,1397 1024.4,1397 1027,1397 1029.5,1397 1032,1397 1034.5,1397 1037,1397 1039.5,1397 1042,1397 1044.5,1397 1047,1397 1049.6,1397 1052.1,1397 1054.6,1396.9 1057.1,1396.9 1059.6,1396.9 1062.1,1396.9 1064.6,1396.9 1067.1,1396.9 1069.6,1396.9 1072.1,1396.9 1074.7,1396.9 1077.2,1396.9 1079.7,1396.9 1082.2,1396.9 1084.7,1396.9 1087.2,1396.9 1089.7,1396.9 1092.2,1396.9 1094.7,1396.9 1097.2,1396.9 1099.7,1396.9 1102.3,1396.9 1104.8,1396.9 1107.3,1396.9 1109.8,1396.9 1112.3,1396.9 1114.8,1396.9 1117.3,1396.9 1119.8,1396.9 1122.3,1397 1124.8,1397 1127.3,1397 1129.8,1397 1132.3,1397.1 1134.9,1397.1 1137.4,1397.1 1139.9,1397.1 1142.4,1397.2 1144.9,1397.2 1147.4,1397.3 1149.9,1397.3 1152.4,1397.3 1154.9,1397.4 1157.4,1397.4 1159.9,1397.5 1162.4,1397.6 1164.9,1397.6 1167.4,1397.7 1169.9,1397.7 1172.4,1397.8 1174.9,1397.9 1177.4,1397.9 1179.9,1398 1182.4,1398.1 1184.9,1398.2 1187.4,1398.3 1189.9,1398.3 1192.4,1398.4 1194.9,1398.5 1197.4,1398.6 1199.9,1398.7 1202.4,1398.8 1204.9,1398.9 1207.5,1399 1210,1399.1 1212.5,1399.2 1215,1399.3 1217.5,1399.4 1220,1399.5 1222.5,1399.6 1225,1399.7 1227.5,1399.8 1230,1399.9 1232.5,1400.1 1235,1400.2 1237.5,1400.3 1240,1400.4 1242.5,1400.5 1245,1400.7 1247.5,1400.8 1250,1400.9 1252.5,1401 1255,1401.2 1257.5,1401.3 1260,1401.4 1262.5,1401.6 1265,1401.7 1267.5,1401.8 1270,1402 1272.5,1402.1 1275,1402.3 1277.5,1402.4 1280,1402.5 1282.5,1402.7 1285,1402.8 1287.5,1403 1290,1403.1 1292.5,1403.3 1295,1403.4 1297.5,1403.5 1300,1403.7 1302.5,1403.8 1305,1404 1307.5,1404.1 1310,1404.3 1312.5,1404.4 1315,1404.6 1317.5,1404.7 1320,1404.9 1322.5,1405.1 1325,1405.2 1327.5,1405.4 1330,1405.5 1332.5,1405.7 1334.9,1405.8 1337.4,1406 1339.9,1406.1 1342.4,1406.3 1344.9,1406.4 1347.4,1406.6 1349.9,1406.7 1352.4,1406.9 1354.9,1407 1357.4,1407.2 1359.9,1407.4 1362.3,1407.5 1364.8,1407.7 1367.3,1407.8 1369.8,1408 1372.3,1408.1 1374.8,1408.3 1377.2,1408.4 1379.7,1408.6 1382.2,1408.7 1384.7,1408.9 1387.1,1409 1389.6,1409.2" stroke="#0000ff" stroke-width="3.5"/>
<path d="M1370.5,1407.5 L1370.5,1425" stroke="#0000ff" stroke-width="2.5"/>
<path d="M258.2,974.5 L262,980 L265,995 L270,998 L272.9,1008 L272.9,1016 L268,1016 L262,1013 L258.2,1010Z" fill="#008000" stroke="#008000" stroke-width="1"/>
<path d="M269.9,1010.8 272.4,1011.8 274.8,1012.7 277.2,1013.7 279.6,1014.7 281.9,1015.7 284.2,1016.7 286.5,1017.8 288.7,1018.8 291,1019.8 293.2,1020.9 295.4,1021.9 297.6,1023 299.8,1024 302,1025.1 304.2,1026.1 306.4,1027.2 308.6,1028.2 310.8,1029.3 313,1030.3 315.3,1031.4 317.6,1032.4 319.9,1033.5 322.3,1034.5 324.6,1035.5 327.1,1036.6 329.5,1037.6 332,1038.5 334.5,1039.4 337,1040.3 339.5,1041.1 342,1041.7 344.5,1042.3 347,1042.7 349.4,1043 351.7,1043.1 354.1,1043 356.3,1042.7 358.5,1042.2 360.5,1041.5 362.5,1040.5 364.4,1039.3 366.2,1037.8 367.9,1036.1 369.5,1034.2 371,1032.2 372.4,1030 373.7,1027.7 375,1025.2 376.1,1022.8 377.2,1020.2 378.3,1017.7 379.2,1015.1 380.1,1012.6 381,1010.1 381.8,1007.6 382.5,1005.2 383.2,1002.9 383.9,1000.5 384.5,998.2 385.1,995.9 385.7,993.7 386.3,991.4 386.9,989.1 387.5,986.9 388.2,984.6 388.8,982.3 389.5,979.9 390.2,977.6 390.9,975.2 391.6,972.8 392.4,970.3 393.3,967.7 394.1,965 395,962.2 395.9,959.4 396.9,956.6 398.1,954.3 399.7,952.7 401.7,952.1 403.8,952.4 405.9,953.4 407.9,954.7 409.7,956.1 411.4,957.7 413,959.4 414.5,961.2 415.8,963.2 417.1,965.2 418.3,967.4 419.4,969.6 420.5,972 421.4,974.3 422.3,976.7 423.2,979.2 424,981.7 424.8,984.1 425.6,986.6 426.3,989.1 427,991.6 427.7,994 428.3,996.5 428.9,999 429.5,1001.4 430.1,1003.9 430.7,1006.3 431.2,1008.8 431.8,1011.3 432.3,1013.7 432.8,1016.2 433.3,1018.6 433.7,1021.1 434.2,1023.5 434.6,1026 435,1028.4 435.5,1030.9 435.9,1033.3 436.3,1035.8 436.7,1038.3 437.1,1040.7 437.5,1043.2 437.8,1045.6 438.2,1048.1 438.6,1050.5 439,1053 439.3,1055.5 439.7,1057.9 440.1,1060.4 440.5,1062.8 440.9,1065.3 441.2,1067.8 441.6,1070.2 442,1072.7 442.4,1075.2 442.8,1077.7 443.2,1080.1 443.6,1082.6 444,1085.1 444.4,1087.5 444.8,1090 445.2,1092.5 445.6,1095 446.1,1097.4 446.5,1099.9 446.9,1102.4 447.3,1104.9 447.8,1107.3 448.2,1109.8 448.7,1112.3 449.1,1114.7 449.6,1117.2 450.1,1119.7 450.5,1122.1 451,1124.6 451.5,1127.1 452,1129.5 452.5,1132 453,1134.5 453.5,1136.9 454,1139.4 454.6,1141.8 455.1,1144.3 455.7,1146.7 456.2,1149.2 456.8,1151.6 457.3,1154.1 457.9,1156.5 458.5,1159 459.1,1161.4 459.7,1163.8 460.3,1166.3 461,1168.7 461.6,1171.1 462.3,1173.5 462.9,1176 463.6,1178.4 464.3,1180.8 465,1183.2 465.7,1185.6 466.4,1188 467.1,1190.4 467.9,1192.8 468.6,1195.2 469.4,1197.6 470.1,1199.9 470.9,1202.3 471.7,1204.7 472.6,1207.1 473.4,1209.4 474.2,1211.8 475.1,1214.1 476,1216.5 476.8,1218.8 477.7,1221.2 478.7,1223.5 479.6,1225.8 480.5,1228.1 481.5,1230.5 482.5,1232.8 483.5,1235.1 484.5,1237.4 485.5,1239.7 486.5,1242 487.6,1244.2 488.6,1246.5 489.7,1248.8 490.8,1251 491.9,1253.3 493.1,1255.5 494.2,1257.7 495.4,1260 496.6,1262.2 497.8,1264.4 499,1266.6 500.2,1268.7 501.5,1270.9 502.7,1273.1 504,1275.2 505.3,1277.3 506.7,1279.4 508,1281.5 509.4,1283.6 510.8,1285.7 512.2,1287.7 513.7,1289.7 515.2,1291.6 516.8,1293.6 518.4,1295.5 520.1,1297.3 521.8,1299.2 523.6,1300.9 525.4,1302.7 527.3,1304.4 529.2,1306 531.2,1307.6 533.2,1309.1 535.2,1310.6 537.3,1312 539.4,1313.4 541.6,1314.7 543.7,1316 545.9,1317.2 548.2,1318.3 550.4,1319.4 552.6,1320.5 554.9,1321.5 557.1,1322.6 559.3,1323.6 561.5,1324.7 563.7,1325.9 565.9,1327.1 568,1328.3 570.1,1329.6 572.1,1331 574.2,1332.4 576.2,1333.9 578.2,1335.4 580.1,1336.9 582.1,1338.5 584.1,1340 586.1,1341.6 588,1343.2 590,1344.7 592,1346.2 594.1,1347.7 596.1,1349.1 598.2,1350.5 600.3,1351.9 602.5,1353.2 604.6,1354.5 606.8,1355.7 609,1356.9 611.2,1358.1 613.4,1359.2 615.7,1360.4 617.9,1361.5 620.2,1362.6 622.4,1363.6 624.7,1364.7 627,1365.7 629.3,1366.8 631.6,1367.8 633.9,1368.8 636.1,1369.8 638.4,1370.8 640.7,1371.8 643,1372.8 645.3,1373.8 647.6,1374.8 649.9,1375.8 652.2,1376.7 654.5,1377.7 656.8,1378.6 659.2,1379.6 661.5,1380.5 663.8,1381.4 666.1,1382.4 668.4,1383.3 670.8,1384.2 673.1,1385.1 675.4,1385.9 677.8,1386.8 680.1,1387.7 682.5,1388.5 684.8,1389.4 687.2,1390.2 689.5,1391 691.9,1391.8 694.3,1392.6 696.7,1393.4 699,1394.2 701.4,1395 703.8,1395.7 706.2,1396.5 708.6,1397.2 711,1397.9 713.4,1398.5 715.8,1399.2 718.3,1399.8 720.7,1400.4 723.1,1400.9 725.6,1401.4 728,1401.9 730.5,1402.3 732.9,1402.7 735.4,1403 737.9,1403.3 740.4,1403.6 742.9,1403.9 745.4,1404.1 747.8,1404.4 750.3,1404.7 752.8,1404.9 755.3,1405.2 757.8,1405.5 760.3,1405.9 762.7,1406.2 765.2,1406.6 767.7,1407 770.1,1407.4 772.6,1407.8 775.1,1408.2 777.5,1408.7 780,1409.1 782.5,1409.6 784.9,1410.1 787.4,1410.6 789.8,1411 792.3,1411.5 794.8,1412 797.2,1412.5 799.7,1413 802.1,1413.5 804.6,1413.9 807.1,1414.4 809.5,1414.9 812,1415.3 814.5,1415.7 816.9,1416.2 819.4,1416.6 821.9,1417 824.3,1417.4 826.8,1417.8 829.3,1418.2 831.8,1418.6 834.2,1419 836.7,1419.4 839.2,1419.7 841.7,1420.1 844.2,1420.5 846.6,1420.8 849.1,1421.2 851.6,1421.5 854.1,1421.8 856.6,1422.2 859.1,1422.5 861.6,1422.8 864,1423.1 866.5,1423.4 869,1423.7 871.5,1424 874,1424.3 876.5,1424.6 879,1424.8 881.5,1425.1 884,1425.4 886.5,1425.7 889,1425.9 891.5,1426.2 894,1426.4 896.5,1426.7 899,1426.9 901.5,1427.2 904,1427.4 906.5,1427.6 909,1427.9 911.5,1428.1 914,1428.3 916.5,1428.5 919,1428.8 921.5,1429 924,1429.2 926.5,1429.4 929,1429.6 931.5,1429.8 934,1430 936.5,1430.2 939,1430.4 941.5,1430.6 944,1430.8 946.5,1431 949,1431.2 951.5,1431.4 954,1431.6 956.5,1431.8 959,1431.9 961.5,1432.1 964,1432.3 966.5,1432.5 969,1432.7 971.5,1432.8 974,1433 976.5,1433.2 979,1433.3 981.5,1433.5 984,1433.7 986.5,1433.8 989,1434 991.5,1434.1 994,1434.3 996.5,1434.5 999,1434.6 1001.5,1434.8 1004,1434.9 1006.5,1435.1 1009,1435.2 1011.5,1435.4 1014,1435.5 1016.5,1435.7 1019,1435.8 1021.6,1435.9 1024.1,1436.1 1026.6,1436.2 1029.1,1436.4 1031.6,1436.5 1034.1,1436.6 1036.6,1436.8 1039.1,1436.9 1041.6,1437 1044.1,1437.2 1046.6,1437.3 1049.1,1437.4 1051.6,1437.5 1054.1,1437.7 1056.6,1437.8 1059.1,1437.9 1061.6,1438 1064.1,1438.1 1066.6,1438.3 1069.1,1438.4 1071.6,1438.5 1074.1,1438.6 1076.6,1438.7 1079.1,1438.9 1081.7,1439 1084.2,1439.1 1086.7,1439.2 1089.2,1439.3 1091.7,1439.4 1094.2,1439.5 1096.7,1439.6 1099.2,1439.8 1101.7,1439.9 1104.2,1440 1106.7,1440.1 1109.2,1440.2 1111.7,1440.3 1114.2,1440.4 1116.7,1440.5 1119.2,1440.6 1121.7,1440.7 1124.2,1440.8 1126.7,1440.9 1129.2,1441 1131.8,1441.1 1134.3,1441.2 1136.8,1441.3 1139.3,1441.4 1141.8,1441.5 1144.3,1441.6 1146.8,1441.7 1149.3,1441.8 1151.8,1441.9 1154.3,1442.1 1156.8,1442.2 1159.3,1442.3 1161.8,1442.4 1164.3,1442.5 1166.8,1442.6 1169.3,1442.7 1171.8,1442.8 1174.3,1442.9 1176.8,1443 1179.4,1443.1 1181.9,1443.2 1184.4,1443.3 1186.9,1443.4 1189.4,1443.5 1191.9,1443.6 1194.4,1443.7 1196.9,1443.8 1199.4,1443.9 1201.9,1444 1204.4,1444.1 1206.9,1444.2 1209.4,1444.3 1211.9,1444.4 1214.4,1444.5 1216.9,1444.6 1219.4,1444.7 1221.9,1444.8 1224.4,1444.9 1227,1445.1 1229.5,1445.2 1232,1445.3 1234.5,1445.4 1237,1445.5 1239.5,1445.6 1242,1445.7 1244.5,1445.8 1247,1445.9 1249.5,1446.1 1252,1446.2 1254.5,1446.3 1257,1446.4 1259.5,1446.5 1262,1446.6 1264.5,1446.8 1267,1446.9 1269.5,1447 1272,1447.1 1274.5,1447.3 1277.1,1447.4 1279.6,1447.5 1282.1,1447.6 1284.6,1447.8 1287.1,1447.9 1289.6,1448 1292.1,1448.2 1294.6,1448.3 1297.1,1448.4 1299.6,1448.6 1302.1,1448.7 1304.6,1448.8 1307.1,1449 1309.6,1449.1 1312.1,1449.3 1314.6,1449.4 1317.1,1449.6 1319.6,1449.7 1322.1,1449.8 1324.6,1450 1327.1,1450.1 1329.6,1450.3 1332.1,1450.5 1334.6,1450.6 1337.2,1450.8 1339.7,1450.9 1342.2,1451.1 1344.7,1451.3 1347.2,1451.4 1349.7,1451.6 1352.2,1451.8 1354.7,1451.9 1357.2,1452.1 1359.7,1452.3 1362.2,1452.4 1364.7,1452.6 1367.2,1452.8 1369.7,1453 1372.2,1453.2 1374.7,1453.4 1377.2,1453.5 1379.7,1453.7 1382.2,1453.9 1384.7,1454.1 1387.2,1454.3 1389.7,1454.5" stroke="#008000" stroke-width="2.5"/>
<path d="M256.6,1155 L259,1150 L262,1149.2 L264,1153 L268,1155 L273.8,1158 L273.8,1164 L268,1165.6 L262,1165 L256.6,1164Z" fill="#000" stroke="#000" stroke-width="1"/>
<path d="M257.3,1161 261,1158.5 265.5,1157.4 270,1160 274.7,1161.6 277.7,1160.9 280.7,1160.4 283.7,1160 286.7,1159.8 289.7,1159.7 292.7,1159.8 295.7,1159.9 298.7,1160.2 301.7,1160.6 304.7,1161.1 307.8,1161.7 310.8,1162.5 313.8,1163.3 316.8,1164.2 319.8,1165.2 322.8,1166.2 325.8,1167.4 328.8,1168.6 331.8,1169.9 334.8,1171.2 337.8,1172.6 340.8,1174.1 343.8,1175.6 346.8,1177.1 349.8,1178.7 352.8,1180.3 355.8,1181.9 358.8,1183.6 361.8,1185.3 364.8,1187 367.9,1188.7 370.9,1190.4 373.9,1192.2 376.9,1194 379.9,1195.8 382.9,1197.6 385.9,1199.4 388.9,1201.2 391.9,1203.1 394.9,1204.9 397.9,1206.7 400.9,1208.6 403.9,1210.4 406.9,1212.2 409.9,1214 412.9,1215.7 415.9,1217.5 418.9,1219.3 421.9,1221 424.9,1222.8 427.9,1224.6 431,1226.4 434,1228.2 437,1230 440,1231.9 443,1233.7 446,1235.7 449,1237.6 452,1239.6 455,1241.6 458,1243.6 461,1245.7 464,1247.9 467,1250 470,1252.2 473,1254.3 476,1256.5 479,1258.7 482,1260.9 485,1263.1 488,1265.2 491,1267.3 494.1,1269.4 497.1,1271.5 500.1,1273.5 503.1,1275.5 506.1,1277.4 509.1,1279.3 512.1,1281.1 515.1,1282.9 518.1,1284.6 521.1,1286.3 524.1,1287.9 527.1,1289.5 530.1,1291 533.1,1292.5 536.1,1294 539.1,1295.4 542.1,1296.8 545.1,1298.2 548.1,1299.6 551.1,1301 554.2,1302.3 557.2,1303.6 560.2,1304.9 563.2,1306.3 566.2,1307.6 569.2,1308.9 572.2,1310.1 575.2,1311.4 578.2,1312.7 581.2,1313.9 584.2,1315.1 587.2,1316.4 590.2,1317.6 593.2,1318.7 596.2,1319.9 599.2,1321 602.2,1322.2 605.2,1323.3 608.2,1324.3 611.2,1325.4 614.2,1326.4 617.3,1327.4 620.3,1328.4 623.3,1329.4 626.3,1330.3 629.3,1331.2 632.3,1332 635.3,1332.9 638.3,1333.7 641.3,1334.5 644.3,1335.2 647.3,1335.9 650.3,1336.6 653.3,1337.2 656.3,1337.8 659.3,1338.4 662.3,1338.9 665.3,1339.4 668.3,1339.8 671.3,1340.2 674.3,1340.6 677.4,1340.9 680.4,1341.2 683.4,1341.4 686.4,1341.6 689.4,1341.7 692.4,1341.8 695.4,1341.9 698.4,1341.9 701.4,1341.9 704.4,1341.8 707.4,1341.7 710.4,1341.6 713.4,1341.5 716.4,1341.3 719.4,1341 722.4,1340.8 725.4,1340.5 728.4,1340.1 731.4,1339.8 734.4,1339.4 737.4,1339 740.5,1338.5 743.5,1338.1 746.5,1337.6 749.5,1337.1 752.5,1336.5 755.5,1335.9 758.5,1335.3 761.5,1334.7 764.5,1334.1 767.5,1333.4 770.5,1332.7 773.5,1332 776.5,1331.3 779.5,1330.6 782.5,1329.8 785.5,1329.1 788.5,1328.3 791.5,1327.5 794.5,1326.7 797.5,1325.9 800.5,1325 803.6,1324.2 806.6,1323.3 809.6,1322.5 812.6,1321.6 815.6,1320.7 818.6,1319.8 821.6,1318.9 824.6,1318 827.6,1317.1 830.6,1316.2 833.6,1315.3 836.6,1314.4 839.6,1313.5 842.6,1312.6 845.6,1311.7 848.6,1310.7 851.6,1309.8 854.6,1308.9 857.6,1308 860.6,1307.1 863.7,1306.2 866.7,1305.3 869.7,1304.4 872.7,1303.5 875.7,1302.6 878.7,1301.8 881.7,1300.9 884.7,1300 887.7,1299.1 890.7,1298.3 893.7,1297.4 896.7,1296.5 899.7,1295.7 902.7,1294.8 905.7,1294 908.7,1293.1 911.7,1292.3 914.7,1291.5 917.7,1290.7 920.7,1289.8 923.7,1289 926.8,1288.2 929.8,1287.4 932.8,1286.6 935.8,1285.8 938.8,1285.1 941.8,1284.3 944.8,1283.5 947.8,1282.8 950.8,1282 953.8,1281.3 956.8,1280.5 959.8,1279.8 962.8,1279.1 965.8,1278.4 968.8,1277.7 971.8,1277 974.8,1276.3 977.8,1275.6 980.8,1274.9 983.8,1274.3 986.8,1273.6 989.9,1273 992.9,1272.4 995.9,1271.7 998.9,1271.1 1001.9,1270.5 1004.9,1269.9 1007.9,1269.4 1010.9,1268.8 1013.9,1268.2 1016.9,1267.7 1019.9,1267.2 1022.9,1266.7 1025.9,1266.1 1028.9,1265.6 1031.9,1265.2 1034.9,1264.7 1037.9,1264.2 1040.9,1263.8 1043.9,1263.3 1046.9,1262.9 1050,1262.5 1053,1262.1 1056,1261.7 1059,1261.3 1062,1260.9 1065,1260.5 1068,1260.1 1071,1259.8 1074,1259.4 1077,1259 1080,1258.7 1083,1258.3 1086,1258 1089,1257.6 1092,1257.3 1095,1256.9 1098,1256.6 1101,1256.3 1104,1255.9 1107,1255.6 1110,1255.2 1113.1,1254.9 1116.1,1254.5 1119.1,1254.2 1122.1,1253.8 1125.1,1253.5 1128.1,1253.1 1131.1,1252.7 1134.1,1252.4 1137.1,1252 1140.1,1251.6 1143.1,1251.2 1146.1,1250.8 1149.1,1250.4 1152.1,1250 1155.1,1249.6 1158.1,1249.2 1161.1,1248.8 1164.1,1248.4 1167.1,1248 1170.1,1247.5 1173.2,1247.1 1176.2,1246.7 1179.2,1246.3 1182.2,1245.8 1185.2,1245.4 1188.2,1244.9 1191.2,1244.5 1194.2,1244 1197.2,1243.6 1200.2,1243.1 1203.2,1242.7 1206.2,1242.2 1209.2,1241.8 1212.2,1241.3 1215.2,1240.8 1218.2,1240.4 1221.2,1239.9 1224.2,1239.4 1227.2,1239 1230.2,1238.5 1233.2,1238 1236.3,1237.5 1239.3,1237.1 1242.3,1236.6 1245.3,1236.1 1248.3,1235.6 1251.3,1235.1 1254.3,1234.6 1257.3,1234.1 1260.3,1233.7 1263.3,1233.2 1266.3,1232.7 1269.3,1232.2 1272.3,1231.7 1275.3,1231.2 1278.3,1230.7 1281.3,1230.2 1284.3,1229.7 1287.3,1229.2 1290.3,1228.7 1293.3,1228.2 1296.3,1227.7 1299.4,1227.2 1302.4,1226.7 1305.4,1226.2 1308.4,1225.7 1311.4,1225.2 1314.4,1224.7 1317.4,1224.2 1320.4,1223.7 1323.4,1223.2 1326.4,1222.7 1329.4,1222.2 1332.4,1221.7 1335.4,1221.2 1338.4,1220.7 1341.4,1220.2 1344.4,1219.6 1347.4,1219.1 1350.4,1218.6 1353.4,1218.1 1356.4,1217.6 1359.5,1217.1 1362.5,1216.6 1365.5,1216.1 1368.5,1215.6 1371.5,1215.2 1374.5,1214.7 1377.5,1214.2 1380.5,1213.7 1383.5,1213.2 1386.5,1212.7 1389.5,1212.2" stroke="#000000" stroke-width="2.7"/>
<path d="M430.4,1031.3 L430.4,795.9" stroke="#d2423c" stroke-width="3.4" stroke-dasharray="14 6.1" stroke-opacity="0.85"/>
</g>
<g fill="none" stroke="#000" stroke-width="4.2">
<rect x="202.6" y="40.2" width="1242.9" height="724.8"/>
<rect x="202.6" y="765" width="1242.9" height="724.2"/>
</g>
<path d="M179,149.2 H202.6 M179,304 H202.6 M179,458.8 H202.6 M179,613.5 H202.6 M179,843 H202.6 M179,937.2 H202.6 M179,1031.3 H202.6 M179,1125.5 H202.6 M179,1219.7 H202.6 M179,1313.8 H202.6 M179,1408 H202.6 M244.2,1489.2 V1512 M387.4,1489.2 V1512 M530.6,1489.2 V1512 M673.8,1489.2 V1512 M817,1489.2 V1512 M960.2,1489.2 V1512 M1103.4,1489.2 V1512 M1246.6,1489.2 V1512 M1389.8,1489.2 V1512" stroke="#000" stroke-width="3.6" fill="none"/>
<text x="97" y="162.1" font-size="37.5" textLength="58.2" lengthAdjust="spacingAndGlyphs">1.0</text>
<text x="95.2" y="316.9" font-size="37.5" textLength="58.7" lengthAdjust="spacingAndGlyphs">0.8</text>
<text x="95.2" y="471.7" font-size="37.5" textLength="58.7" lengthAdjust="spacingAndGlyphs">0.6</text>
<text x="95.2" y="626.4" font-size="37.5" textLength="58.1" lengthAdjust="spacingAndGlyphs">0.4</text>
<text x="95.2" y="855.9" font-size="37.5" textLength="58.7" lengthAdjust="spacingAndGlyphs">0.8</text>
<text x="95.1" y="950.1" font-size="37.5" textLength="59" lengthAdjust="spacingAndGlyphs">0.7</text>
<text x="95.2" y="1044.2" font-size="37.5" textLength="58.7" lengthAdjust="spacingAndGlyphs">0.6</text>
<text x="95.2" y="1138.4" font-size="37.5" textLength="58.6" lengthAdjust="spacingAndGlyphs">0.5</text>
<text x="95.2" y="1232.6" font-size="37.5" textLength="58.1" lengthAdjust="spacingAndGlyphs">0.4</text>
<text x="95.2" y="1326.8" font-size="37.5" textLength="58.7" lengthAdjust="spacingAndGlyphs">0.3</text>
<text x="95.1" y="1420.9" font-size="37.5" textLength="59" lengthAdjust="spacingAndGlyphs">0.2</text>
<text x="209.4" y="1560.4" font-size="37.5" textLength="70.2" lengthAdjust="spacingAndGlyphs">300</text>
<text x="353.2" y="1560.4" font-size="37.5" textLength="69.6" lengthAdjust="spacingAndGlyphs">400</text>
<text x="495.7" y="1560.4" font-size="37.5" textLength="70.3" lengthAdjust="spacingAndGlyphs">500</text>
<text x="638.4" y="1560.4" font-size="37.5" textLength="70.8" lengthAdjust="spacingAndGlyphs">600</text>
<text x="781.6" y="1560.4" font-size="37.5" textLength="70.8" lengthAdjust="spacingAndGlyphs">700</text>
<text x="925.1" y="1560.4" font-size="37.5" textLength="70.5" lengthAdjust="spacingAndGlyphs">800</text>
<text x="1068.2" y="1560.4" font-size="37.5" textLength="70.6" lengthAdjust="spacingAndGlyphs">900</text>
<text x="1198.6" y="1560.4" font-size="37.5" textLength="94.9" lengthAdjust="spacingAndGlyphs">1000</text>
<text x="1341.8" y="1560.4" font-size="37.5" textLength="94.9" lengthAdjust="spacingAndGlyphs">1100</text>
<text x="655.3" y="1609.5" font-size="40" textLength="338.5" lengthAdjust="spacingAndGlyphs">Wavelength (nm)</text>
<text transform="translate(58.3,571) rotate(-90)" x="-0.1" y="0" font-size="40" textLength="336.7" lengthAdjust="spacingAndGlyphs">Absorbance (a.u.)</text>
<text transform="translate(58.3,1294) rotate(-90)" x="-0.1" y="0" font-size="40" textLength="334.7" lengthAdjust="spacingAndGlyphs">Absorbance (a.u.)</text>
<text x="40.4" y="111" font-size="65" textLength="42.8" lengthAdjust="spacingAndGlyphs">A</text>
<text x="41.3" y="835.8" font-size="65" textLength="42.4" lengthAdjust="spacingAndGlyphs">B</text>
<text x="437.6" y="110.9" font-size="40" textLength="148.5" lengthAdjust="spacingAndGlyphs">430 nm</text>
<text x="437.6" y="823.6" font-size="37" textLength="148.8" lengthAdjust="spacingAndGlyphs">430 nm</text>
<path d="M1127.5,87.6 H1209" stroke="#0000ff" stroke-width="3" fill="none"/>
<path d="M1127.5,143.4 H1209" stroke="#008000" stroke-width="3" fill="none"/>
<path d="M1127.5,201.1 H1209" stroke="#000000" stroke-width="3" fill="none"/>
<text x="1240.1" y="101.2" font-size="40" textLength="109.8" lengthAdjust="spacingAndGlyphs">PPy-C</text>
<text x="1240" y="155.7" font-size="40" textLength="104.7" lengthAdjust="spacingAndGlyphs">PPy-L</text>
<text x="1240" y="214.5" font-size="40" textLength="151.4" lengthAdjust="spacingAndGlyphs">PPy-ClO</text>
<text x="1393.9" y="219.5" font-size="26" textLength="14.5" lengthAdjust="spacingAndGlyphs">4</text>
<path d="M1127.5,812.2 H1209" stroke="#0000ff" stroke-width="3" fill="none"/>
<path d="M1127.5,868 H1209" stroke="#008000" stroke-width="3" fill="none"/>
<path d="M1127.5,925.7 H1209" stroke="#000000" stroke-width="3" fill="none"/>
<text x="1240.1" y="825.8" font-size="40" textLength="109.8" lengthAdjust="spacingAndGlyphs">PPy-C</text>
<text x="1240" y="880.3" font-size="40" textLength="104.7" lengthAdjust="spacingAndGlyphs">PPy-L</text>
<text x="1240" y="939.1" font-size="40" textLength="151.4" lengthAdjust="spacingAndGlyphs">PPy-ClO</text>
<text x="1393.9" y="944.1" font-size="26" textLength="14.5" lengthAdjust="spacingAndGlyphs">4</text>
</svg></body></html>
